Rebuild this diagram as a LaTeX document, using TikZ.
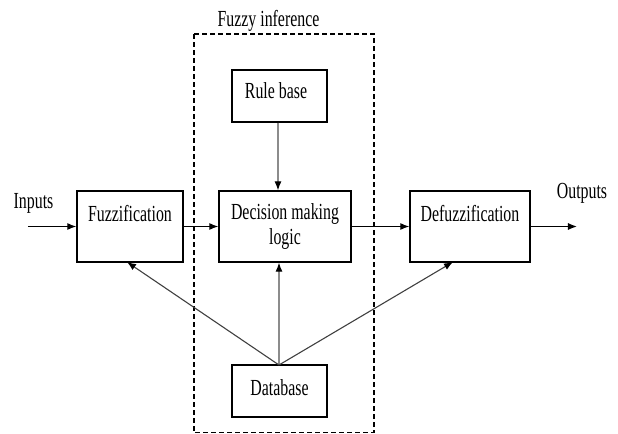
\documentclass[tikz,border=0pt]{standalone}
\usepackage{fontspec}
\setmainfont[FakeStretch=0.69]{Liberation Serif}
\usetikzlibrary{arrows.meta}
\tikzset{
  box/.style={draw=black, line width=0.65pt, inner sep=0pt, minimum height=35.5pt},
  txt/.style={inner sep=0pt, anchor=base, font=\fontsize{11.5pt}{12.5pt}\selectfont},
  arr/.style={draw=black, line width=0.6pt, -{Latex[length=4.5pt,width=3.5pt]}},
  grayarr/.style={draw=black!45, line width=0.55pt, -{Latex[length=4.5pt,width=3.5pt,color=black]}},
  diagarr/.style={draw=black!75, line width=0.55pt, -{Latex[length=4.5pt,width=3.5pt,color=black]}},
  dashbox/.style={draw=black, line width=0.6pt, dash pattern=on 2.5pt off 1.5pt},
}
\begin{document}
\begin{tikzpicture}[x=0.5pt, y=-0.5pt]
\useasboundingbox (0,0) rectangle (618,434);
% dashed fuzzy inference region
\draw[dashbox] (194,34) rectangle (374,432.5);
\node[txt] (fi) at (268.5,26) {Fuzzy inference};
% boxes
\node[box, minimum width=47.5pt, minimum height=26pt] (rb) at (279.5,96) {};
\node[box, minimum width=53pt] (fz) at (130,226.5) {};
\node[box, minimum width=66pt, align=center, font=\fontsize{11.5pt}{12.5pt}\selectfont] (dm) at (285,226.5) {Decision making\\logic};
\node[box, minimum width=60pt] (df) at (470,226.5) {};
\node[box, minimum width=47.5pt, minimum height=26pt] (db) at (279.5,391) {};
% texts
\node[txt] (rbt) at (276,98) {Rule base};
\node[txt] (fzt) at (130,221) {Fuzzification};
\node[txt] (dft) at (470,221) {Defuzzification};
\node[txt] (dbt) at (279.5,395) {Database};
\node[txt] (in) at (33.5,208) {Inputs};
\node[txt] (out) at (582,198) {Outputs};
% connector ends
\coordinate (instart) at (28,226.5);
\coordinate (outend) at (577,226.5);
\coordinate (dbtop) at (279,365);
\coordinate (fzin) at (127,262);
\coordinate (dfin) at (453,262);
% connectors
\draw[arr] (instart) -- (fz.west);
\draw[arr] (fz.east) -- (dm.west);
\draw[arr] (dm.east) -- (df.west);
\draw[arr] (df.east) -- (outend);
\draw[grayarr] ([xshift=-0.75pt]rb.south) -- ([xshift=-0.75pt]rb.south |- dm.north);
\draw[grayarr] (dbtop) -- (dbtop |- dm.south);
\draw[diagarr] (dbtop) -- (fzin);
\draw[diagarr] (dbtop) -- (dfin);
\end{tikzpicture}
\end{document}
